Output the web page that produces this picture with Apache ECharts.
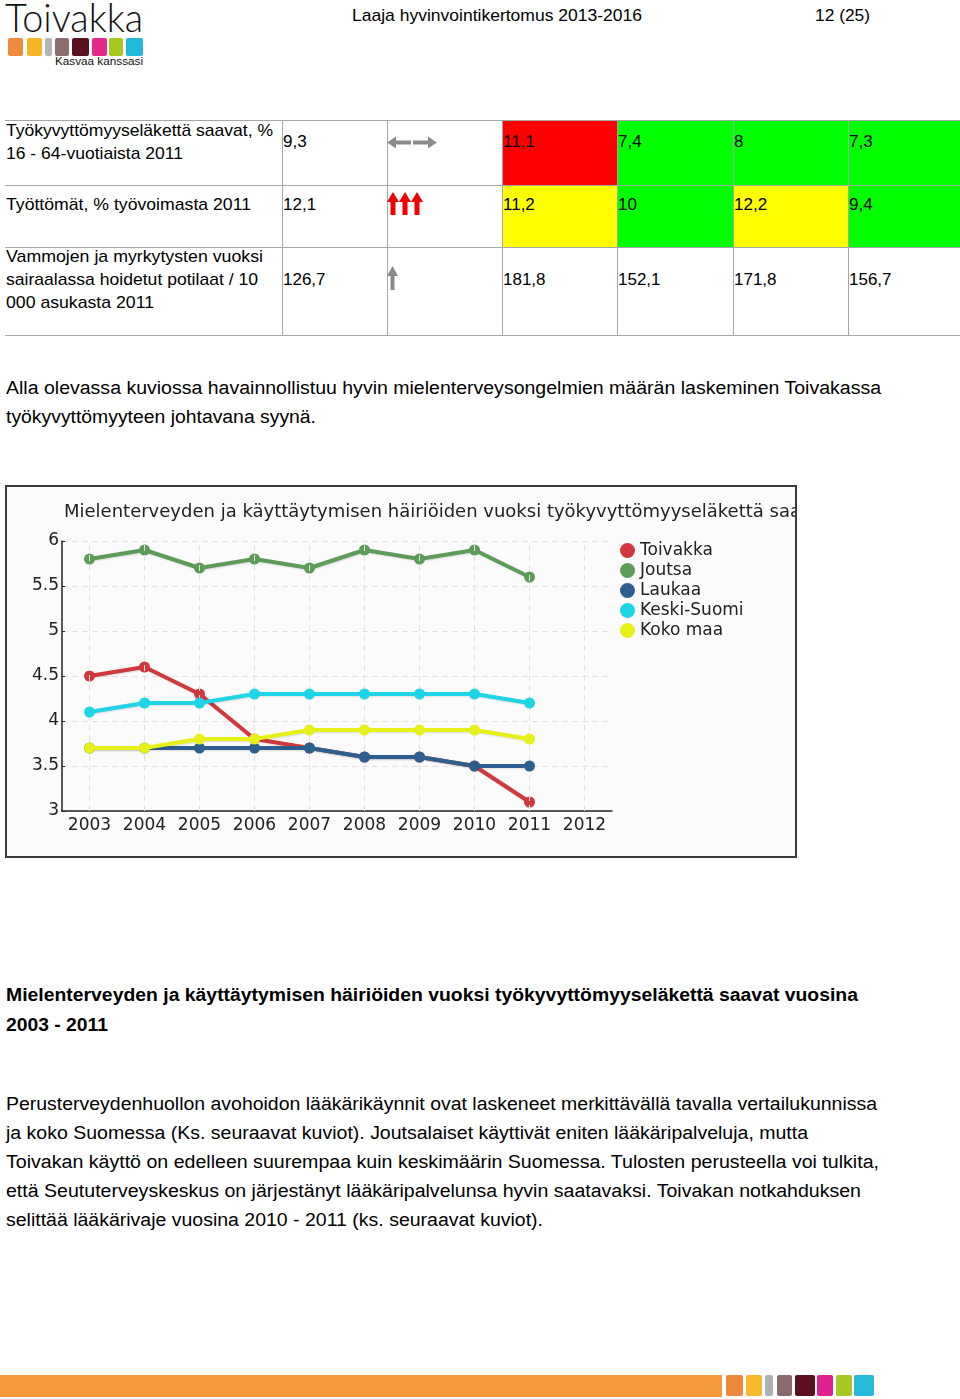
<!DOCTYPE html>
<html>
<head>
<meta charset="utf-8">
<script src="https://cdn.jsdelivr.net/npm/echarts@6/dist/echarts.min.js"></script>
<style>
  html, body { margin:0; padding:0; background:#fff; }
  body { width:960px; height:1399px; position:relative; overflow:hidden; font-family:"Liberation Sans", Arial, sans-serif; color:#000; }
  .t { position:absolute; white-space:nowrap; transform-origin:0 50%; }
  .abs { position:absolute; }
  .hl { position:absolute; height:1px; background:#a6a6a6; }
  .vl { position:absolute; width:1px; background:#a6a6a6; }
</style>
</head>
<body>
<script>
// ---------- chart data ----------
const years = ['2003','2004','2005','2006','2007','2008','2009','2010','2011','2012'];
const seriesNames = ['Toivakka','Joutsa','Laukaa','Keski-Suomi','Koko maa'];
const toivakka   = [4.5, 4.6, 4.3, 3.8, 3.7, 3.6, 3.6, 3.5, 3.1, null];
const joutsa     = [5.8, 5.9, 5.7, 5.8, 5.7, 5.9, 5.8, 5.9, 5.6, null];
const laukaa     = [3.7, 3.7, 3.7, 3.7, 3.7, 3.6, 3.6, 3.5, 3.5, null];
const keskiSuomi = [4.1, 4.2, 4.2, 4.3, 4.3, 4.3, 4.3, 4.3, 4.2, null];
const kokoMaa    = [3.7, 3.7, 3.8, 3.8, 3.9, 3.9, 3.9, 3.9, 3.8, null];
const yTicks = { min: 3, max: 6, interval: 0.5 };
const chartTitle = 'Mielenterveyden ja käyttäytymisen häiriöiden vuoksi työkyvyttömyyseläkettä saavat';

// ---------- table data ----------
const rowLabels = [
  ['Työkyvyttömyyseläkettä saavat, %', '16 - 64-vuotiaista 2011'],
  ['Työttömät, % työvoimasta 2011'],
  ['Vammojen ja myrkytysten vuoksi', 'sairaalassa hoidetut potilaat / 10', '000 asukasta 2011']
];
const rowValues = ['9,3', '12,1', '126,7'];
const compareValues = [
  ['11,1', '7,4', '8', '7,3'],
  ['11,2', '10', '12,2', '9,4'],
  ['181,8', '152,1', '171,8', '156,7']
];
</script>

<!-- header / logo -->
<div class="t" data-w="138" style="left:5px;top:-5px;font-family:Lato,'Open Sans',sans-serif;font-weight:300;font-size:40px;line-height:44px;color:#111;">Toivakka</div>
<div class="abs" style="left:8px;top:38px;width:15px;height:18px;background:#f08a3c;border-radius:2px;"></div>
<div class="abs" style="left:27px;top:38px;width:15px;height:18px;background:#f6b623;border-radius:2px;"></div>
<div class="abs" style="left:45px;top:38px;width:7px;height:18px;background:#b4b4b4;border-radius:2px;"></div>
<div class="abs" style="left:55px;top:38px;width:14px;height:18px;background:#8c6d6d;border-radius:2px;"></div>
<div class="abs" style="left:72px;top:38px;width:17px;height:18px;background:#5c1020;border-radius:2px;"></div>
<div class="abs" style="left:92px;top:38px;width:15px;height:18px;background:#e8288c;border-radius:2px;"></div>
<div class="abs" style="left:109px;top:38px;width:14px;height:18px;background:#a8c820;border-radius:2px;"></div>
<div class="abs" style="left:126px;top:38px;width:17px;height:18px;background:#22b8d8;border-radius:2px;"></div>
<div class="t" data-w="88" style="left:55px;top:55px;font-size:11px;line-height:13px;color:#111;">Kasvaa kanssasi</div>

<div class="t" data-w="290" style="left:352px;top:6px;font-size:17px;line-height:20px;">Laaja hyvinvointikertomus 2013-2016</div>
<div class="t" data-w="55" style="left:815px;top:6px;font-size:17px;line-height:20px;">12 (25)</div>

<!-- table -->
<div id="table"></div>

<!-- paragraph -->
<div class="t" data-w="875" style="left:6px;top:377px;font-size:18px;line-height:22px;">Alla olevassa kuviossa havainnollistuu hyvin mielenterveysongelmien määrän laskeminen Toivakassa</div>
<div class="t" data-w="310" style="left:6px;top:406px;font-size:18px;line-height:22px;">työkyvyttömyyteen johtavana syynä.</div>

<!-- chart box -->
<div class="abs" style="left:5px;top:485px;width:792px;height:373px;box-sizing:border-box;border:2px solid #3a3a3a;background:#fbfbfb;">
  <div id="chart" style="width:788px;height:369px;"></div>
</div>

<!-- caption -->
<div class="t" data-w="852" style="left:6px;top:984px;font-size:18px;line-height:22px;font-weight:bold;">Mielenterveyden ja käyttäytymisen häiriöiden vuoksi työkyvyttömyyseläkettä saavat vuosina</div>
<div class="t" data-w="102" style="left:6px;top:1014px;font-size:18px;line-height:22px;font-weight:bold;">2003 - 2011</div>

<div class="t" data-w="871" style="left:6px;top:1093px;font-size:18px;line-height:22px;">Perusterveydenhuollon avohoidon lääkärikäynnit ovat laskeneet merkittävällä tavalla vertailukunnissa</div>
<div class="t" data-w="802" style="left:6px;top:1122px;font-size:18px;line-height:22px;">ja koko Suomessa (Ks. seuraavat kuviot). Joutsalaiset käyttivät eniten lääkäripalveluja, mutta</div>
<div class="t" data-w="873" style="left:6px;top:1151px;font-size:18px;line-height:22px;">Toivakan käyttö on edelleen suurempaa kuin keskimäärin Suomessa. Tulosten perusteella voi tulkita,</div>
<div class="t" data-w="855" style="left:6px;top:1180px;font-size:18px;line-height:22px;">että Seututerveyskeskus on järjestänyt lääkäripalvelunsa hyvin saatavaksi. Toivakan notkahduksen</div>
<div class="t" data-w="537" style="left:6px;top:1209px;font-size:18px;line-height:22px;">selittää lääkärivaje vuosina 2010 - 2011 (ks. seuraavat kuviot).</div>

<!-- footer -->
<div class="abs" style="left:0;top:1375px;width:722px;height:22px;background:#f7993f;"></div>
<div class="abs" style="left:726px;top:1375px;width:17px;height:21px;background:#ec873c;border-radius:2px;"></div>
<div class="abs" style="left:746px;top:1375px;width:16px;height:21px;background:#f8b82c;border-radius:2px;"></div>
<div class="abs" style="left:765px;top:1375px;width:8px;height:21px;background:#b0b0b0;border-radius:2px;"></div>
<div class="abs" style="left:777px;top:1375px;width:15px;height:21px;background:#8a6a6e;border-radius:2px;"></div>
<div class="abs" style="left:795px;top:1375px;width:20px;height:21px;background:#5a1020;border-radius:2px;"></div>
<div class="abs" style="left:817px;top:1375px;width:16px;height:21px;background:#e0208c;border-radius:2px;"></div>
<div class="abs" style="left:836px;top:1375px;width:16px;height:21px;background:#a8c828;border-radius:2px;"></div>
<div class="abs" style="left:854px;top:1375px;width:20px;height:21px;background:#28b8d8;border-radius:2px;"></div>

<script>
// ----- build table -----
(function(){
  const T = document.getElementById('table');
  const rowY = [120, 185, 247, 335];
  const colX = [282, 387, 502, 617, 733, 848, 960];
  const fills = [
    ['#ff0000','#00ff00','#00ff00','#00ff00'],
    ['#ffff00','#00ff00','#ffff00','#00ff00'],
    [null,null,null,null]
  ];
  let h = '';
  for (let r = 0; r < 3; r++) {
    for (let c = 0; c < 4; c++) {
      if (fills[r][c]) h += `<div class="abs" style="left:${colX[c+2]}px;top:${rowY[r]}px;width:${colX[c+3]-colX[c+2]}px;height:${rowY[r+1]-rowY[r]}px;background:${fills[r][c]}"></div>`;
    }
  }
  rowY.forEach(y => { h += `<div class="hl" style="left:5px;top:${y}px;width:955px"></div>`; });
  colX.slice(0,6).forEach(x => { h += `<div class="vl" style="left:${x}px;top:120px;height:215px"></div>`; });
  const labelLines = [[131,154],[205],[257,280,303]];
  const labelW = [[267,177],[245],[257,252,148]];
  const valueY = [142, 205, 280];
  for (let r = 0; r < 3; r++) {
    rowLabels[r].forEach((s,i) => {
      h += `<div class="t" data-w="${labelW[r][i]}" style="left:6px;top:${labelLines[r][i]-10}px;font-size:17px;line-height:20px;">${s}</div>`;
    });
    h += `<div class="t" style="left:283px;top:${valueY[r]-10}px;font-size:17px;line-height:20px;">${rowValues[r]}</div>`;
    compareValues[r].forEach((v,c) => {
      h += `<div class="t" style="left:${colX[c+2]+1}px;top:${valueY[r]-10}px;font-size:17px;line-height:20px;">${v}</div>`;
    });
  }
  // trend arrows
  h += `<svg class="abs" style="left:386px;top:134px" width="54" height="18">
    <polygon points="1,8.5 10,2.5 10,6.5 25,6.5 25,10.5 10,10.5 10,14.5" fill="#8c8c8c"/>
    <polygon points="51,8.5 42,2.5 42,6.5 27,6.5 27,10.5 42,10.5 42,14.5" fill="#8c8c8c"/></svg>`;
  let red = '';
  for (let i = 0; i < 3; i++) {
    const x0 = 1 + i*12;
    red += `<polygon points="${x0+6},0 ${x0+12},10 ${x0+8.5},10 ${x0+8.5},23 ${x0+3.5},23 ${x0+3.5},10 ${x0},10" fill="#f00000"/>`;
  }
  h += `<svg class="abs" style="left:386px;top:192px" width="40" height="24">${red}</svg>`;
  h += `<svg class="abs" style="left:386px;top:265px" width="14" height="26">
    <polygon points="6.5,1 12,11 8.5,11 8.5,25 4.5,25 4.5,11 1,11" fill="#8c8c8c"/></svg>`;
  T.innerHTML = h;
})();

// ----- chart -----
const colors = ['#d0383e', '#5c9c58', '#2c5f8f', '#1fd4e6', '#e8f01a'];
const datasets = [toivakka, joutsa, laukaa, keskiSuomi, kokoMaa];
const chart = echarts.init(document.getElementById('chart'), null, { renderer: 'canvas' });
const lineSeries = seriesNames.map((name, i) => ({
  name: name,
  type: 'line',
  data: datasets[i],
  symbol: 'circle',
  symbolSize: 11,
  z: 3 + i,
  lineStyle: { width: 4, color: colors[i], shadowColor: 'rgba(0,0,0,0.12)', shadowBlur: 2, shadowOffsetX: 1, shadowOffsetY: 1 },
  itemStyle: { color: colors[i] },
  emphasis: { disabled: true },
  connectNulls: false
}));
const gridSeries = {
  name: '_grid',
  type: 'line',
  data: years.map(() => null),
  z: 1,
  silent: true,
  markLine: {
    silent: true,
    symbol: 'none',
    label: { show: false },
    lineStyle: { color: '#e2e2e2', type: [6, 4], width: 1 },
    data: years.map(y => ({ xAxis: y }))
  }
};
chart.setOption({
  animation: false,
  backgroundColor: '#fbfbfb',
  textStyle: { fontFamily: 'DejaVu Sans' },
  title: {
    text: chartTitle,
    left: 57, top: 16, padding: 0,
    textStyle: { fontFamily: 'DejaVu Sans', fontSize: 18, fontWeight: 'normal', color: '#222' }
  },
  legend: {
    data: seriesNames,
    orient: 'vertical',
    left: 613, top: 55, padding: 0,
    icon: 'circle',
    itemWidth: 15, itemHeight: 15, itemGap: 3,
    textStyle: { fontFamily: 'DejaVu Sans', fontSize: 17, color: '#222' },
    selectedMode: false
  },
  grid: { left: 55, top: 54, width: 550, height: 270, containLabel: false },
  xAxis: {
    type: 'category',
    data: years,
    boundaryGap: true,
    axisLine: { lineStyle: { color: '#222', width: 1.5 } },
    axisTick: { show: true, inside: true, alignWithLabel: true, length: 4, interval: 0, lineStyle: { color: '#222' } },
    axisLabel: { fontFamily: 'DejaVu Sans', fontSize: 17, color: '#222', margin: 6, interval: 0, hideOverlap: false },
    splitLine: { show: false }
  },
  yAxis: {
    type: 'value',
    min: yTicks.min, max: yTicks.max, interval: yTicks.interval,
    axisLine: { show: true, lineStyle: { color: '#222', width: 1.5 } },
    axisTick: { show: true, inside: true, length: 3, lineStyle: { color: '#222' } },
    axisLabel: { fontFamily: 'DejaVu Sans', fontSize: 17, color: '#222', margin: 3 },
    splitLine: { show: true, lineStyle: { color: '#e2e2e2', type: [6, 4], width: 1 } }
  },
  series: [gridSeries].concat(lineSeries)
});

// ----- fit text widths -----
function fit(){
  document.querySelectorAll('.t[data-w]').forEach(el => {
    el.style.transform = '';
    const w = el.getBoundingClientRect().width;
    const target = +el.dataset.w;
    if (w > 0) el.style.transform = `scaleX(${target / w})`;
  });
}
if (document.fonts && document.fonts.ready) document.fonts.ready.then(fit); else fit();
fit();
</script>
</body>
</html>
